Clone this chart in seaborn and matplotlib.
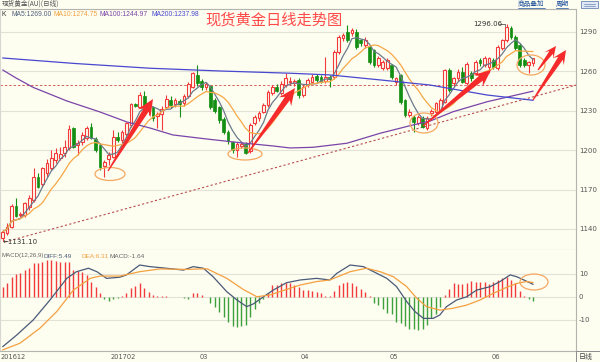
import math
import numpy as np
import pandas as pd
import matplotlib
matplotlib.use("Agg")
import matplotlib.pyplot as plt
import matplotlib.transforms as mtrans
from matplotlib.patches import Ellipse, Polygon, Rectangle
import seaborn as sns

sns.set_style("white")
plt.rcParams["font.family"] = ["DejaVu Sans", "Noto Sans CJK SC"]

W, H = 600, 362
BG = "#fdfdf0"
RED = "#f23a3a"
GREEN = "#138f13"

# ---------------- data ----------------
opens = [1132.9, 1136.7, 1141.8, 1157.8, 1150.5, 1150.7, 1157.0, 1162.1, 1179.9, 1174.3,
         1182.4, 1186.2, 1192.6, 1193.8, 1197.6, 1201.4, 1216.7, 1204.0, 1206.5, 1209.1,
         1217.9, 1208.3, 1204.0, 1188.0, 1193.1, 1195.1, 1210.3, 1207.8, 1212.4, 1219.2,
         1235.2, 1233.2, 1241.3, 1230.0, 1232.6, 1226.0, 1227.3, 1232.6, 1238.2, 1235.0,
         1237.4, 1235.7, 1241.3, 1248.4, 1257.3, 1252.7, 1248.4, 1248.9, 1238.2, 1233.1,
         1223.5, 1214.1, 1206.0, 1200.5, 1203.3, 1204.8, 1199.0, 1220.5, 1224.2, 1229.3,
         1234.4, 1243.8, 1248.4, 1243.3, 1250.0, 1252.0, 1250.9, 1253.4, 1242.0, 1249.6,
         1252.2, 1256.5, 1256.0, 1252.5, 1256.0, 1256.0, 1275.0, 1285.2, 1290.3, 1289.0,
         1290.3, 1283.9, 1280.1, 1278.8, 1276.3, 1264.9, 1262.3, 1262.3, 1264.9, 1252.2,
         1257.3, 1238.2, 1226.8, 1225.5, 1220.4, 1224.3, 1216.6, 1228.1, 1229.3, 1230.6,
         1236.9, 1261.1, 1250.9, 1254.7, 1259.8, 1250.9, 1258.5, 1258.5, 1268.7, 1264.9,
         1263.6, 1268.7, 1262.3, 1277.6, 1283.9, 1293.3, 1286.4, 1280.1, 1268.7, 1264.9,
         1266.1]
highs = [1139.3, 1144.3, 1158.8, 1163.4, 1153.2, 1160.8, 1165.9, 1186.2, 1182.4, 1187.5,
         1193.1, 1200.2, 1201.4, 1202.7, 1207.8, 1219.2, 1218.0, 1207.8, 1214.1, 1218.4,
         1221.0, 1209.8, 1205.8, 1192.6, 1198.9, 1215.4, 1214.1, 1215.4, 1221.7, 1236.2,
         1236.2, 1244.6, 1245.4, 1236.0, 1234.0, 1229.0, 1234.0, 1242.0, 1241.0, 1240.0,
         1239.0, 1243.0, 1252.0, 1259.8, 1264.9, 1254.0, 1252.0, 1250.0, 1240.0, 1234.0,
         1225.0, 1215.5, 1207.0, 1206.0, 1206.0, 1206.0, 1221.0, 1227.0, 1230.0, 1236.0,
         1246.0, 1250.0, 1250.5, 1253.0, 1258.5, 1256.0, 1254.0, 1255.0, 1250.0, 1255.0,
         1258.0, 1258.0, 1257.5, 1271.2, 1257.0, 1276.5, 1288.0, 1289.5, 1295.5, 1293.0,
         1292.0, 1285.0, 1286.0, 1280.0, 1277.0, 1272.0, 1269.0, 1270.0, 1266.0, 1256.0,
         1258.0, 1239.0, 1231.0, 1227.0, 1227.0, 1226.0, 1226.0, 1231.0, 1237.0, 1239.5,
         1262.0, 1262.3, 1256.0, 1262.0, 1263.0, 1267.0, 1260.0, 1269.0, 1270.0, 1271.5,
         1271.0, 1270.5, 1280.0, 1285.0, 1296.06, 1294.5, 1288.0, 1281.4, 1270.0, 1268.0,
         1270.0]
lows = [1131.1, 1135.5, 1140.5, 1149.4, 1149.4, 1149.4, 1154.5, 1160.8, 1171.0, 1172.3,
        1179.9, 1184.9, 1190.0, 1192.6, 1195.1, 1200.2, 1201.4, 1196.4, 1204.0, 1207.8,
        1208.3, 1198.9, 1184.9, 1179.9, 1188.8, 1193.8, 1206.5, 1205.3, 1210.3, 1217.9,
        1233.2, 1231.9, 1229.4, 1227.0, 1222.0, 1216.6, 1215.4, 1231.0, 1232.0, 1233.0,
        1225.5, 1234.0, 1240.0, 1247.0, 1249.0, 1246.0, 1246.0, 1231.0, 1228.0, 1221.0,
        1212.0, 1205.0, 1198.0, 1195.1, 1202.0, 1197.0, 1197.5, 1219.0, 1222.0, 1228.0,
        1233.0, 1242.0, 1244.0, 1242.0, 1248.0, 1250.0, 1249.0, 1240.0, 1240.5, 1248.0,
        1251.0, 1252.0, 1251.0, 1251.0, 1248.4, 1254.0, 1273.0, 1283.0, 1282.0, 1287.0,
        1277.0, 1279.0, 1278.0, 1266.0, 1263.0, 1263.0, 1261.0, 1261.0, 1254.5, 1250.0,
        1235.0, 1225.0, 1225.5, 1214.1, 1219.0, 1216.6, 1215.5, 1226.0, 1228.0, 1229.0,
        1236.0, 1244.0, 1249.0, 1253.0, 1251.0, 1249.6, 1253.0, 1257.0, 1264.0, 1263.0,
        1258.5, 1262.0, 1261.0, 1276.0, 1282.0, 1285.0, 1276.0, 1263.5, 1263.0, 1258.5,
        1264.0]
closes = [1138.0, 1141.8, 1157.8, 1150.2, 1151.7, 1159.6, 1163.4, 1179.4, 1171.7, 1186.2,
          1190.0, 1193.8, 1197.6, 1196.9, 1202.2, 1216.2, 1202.2, 1205.8, 1211.6, 1216.7,
          1209.1, 1200.2, 1187.0, 1191.3, 1196.4, 1210.3, 1207.8, 1214.1, 1220.5, 1235.2,
          1233.7, 1242.1, 1230.6, 1233.5, 1224.5, 1227.5, 1231.1, 1239.0, 1234.4, 1238.2,
          1235.2, 1241.3, 1250.4, 1258.5, 1250.9, 1248.4, 1250.2, 1232.6, 1230.1, 1222.9,
          1214.1, 1207.3, 1200.2, 1204.5, 1204.8, 1198.2, 1219.2, 1225.5, 1228.1, 1234.4,
          1244.6, 1248.4, 1245.3, 1250.5, 1254.7, 1253.0, 1252.5, 1242.0, 1248.4, 1253.4,
          1256.0, 1253.4, 1252.2, 1255.5, 1254.5, 1275.0, 1286.4, 1287.7, 1283.9, 1291.5,
          1278.8, 1281.4, 1283.9, 1267.4, 1264.9, 1270.0, 1267.4, 1268.7, 1256.0, 1254.7,
          1236.9, 1226.8, 1229.3, 1221.7, 1225.5, 1217.9, 1224.3, 1229.9, 1235.7, 1238.2,
          1261.1, 1245.8, 1254.7, 1259.8, 1252.2, 1265.5, 1254.7, 1267.4, 1266.1, 1270.0,
          1270.0, 1263.6, 1278.8, 1283.9, 1294.1, 1286.4, 1277.6, 1264.9, 1264.9, 1267.4,
          1270.0]

ma100_idx = [0, 3.0, 6.9, 14.5, 22, 28.1, 33.3, 38.5, 46.2, 53.7, 61.2, 65, 70.2, 77.9, 85.4,
             92.8, 96.7, 101.9, 109.6, 120]
ma100_val = [1261.1, 1255.0, 1247.8, 1237.5, 1229.1, 1221.5, 1216.9, 1211.6, 1208.5, 1205.7,
             1203.2, 1201.7, 1202.2, 1205.3, 1212.9, 1219.2, 1222.2, 1229.3, 1236.9, 1244.97]
ma200_idx = [0, 16.4, 33.3, 49.2, 65, 74, 85.4, 96.7, 109.6, 120]
ma200_val = [1270.2, 1266.0, 1262.4, 1260.3, 1258.6, 1257.3, 1253.5, 1249.6, 1242.0, 1237.98]

macd_bar = [4.5, 5.9, 8.8, 10.0, 10.6, 11.7, 12.5, 14.9, 14.9, 15.4,
            16.1, 16.1, 15.7, 15.4, 15.1, 15.2, 11.7, 11.4, 11.0, 9.6,
            6.7, 4.5, 1.6, -1.0, -1.6, -0.9, -0.6, 0.6, 1.6, 3.8,
            4.8, 5.9, 3.8, 2.0, 0.9, 0.3, 0.4, 0.4, 0.1, 0.1,
            0.2, -0.6, -0.9, 1.6, 1.6, 0.9, 0.1, -2.5, -4.2, -6.4,
            -8.6, -10.7, -12.6, -12.9, -12.6, -12.2, -8.6, -5.4, -2.8, -1.0,
            1.9, 5.2, 5.2, 5.9, 5.9, 5.9, 5.2, 4.5, 3.0, 3.0,
            2.8, 2.3, 1.6, 0.6, 0.6, 2.8, 5.2, 6.2, 6.5, 6.2,
            4.8, 3.3, 2.3, 0.4, -2.5, -3.6, -5.4, -6.8, -7.4, -10.7,
            -11.2, -12.6, -13.8, -14.1, -14.3, -14.1, -12.2, -9.3, -7.4, -4.5,
            1.0, 3.3, 5.9, 5.7, 5.7, 6.2, 7.0, 6.7, 6.4, 6.5,
            5.7, 6.5, 7.4, 8.1, 8.6, 7.4, 5.9, 2.8, 0.4, -1.0,
            -1.64]

diff_idx = [0, 3.2, 6.9, 10.7, 14.5, 16.7, 19.4, 21.3, 23.5, 26.5, 28, 31, 33.3, 37, 40.9,
            43.1, 45.4, 47.6, 50.7, 53, 55.2, 56.7, 59, 61.2, 64.2, 67.3, 71, 74, 75.6, 78.6,
            81.6, 83.9, 86.9, 89.1, 91.4, 93.3, 95.2, 97.4, 98.9, 100.4, 102.7, 105, 107.2,
            110.3, 112.5, 114.8, 116.3, 117.9, 120]
diff_val = [-21.6, -16.5, -10.0, -1.3, 8.1, 11.0, 12.5, 11.0, 8.1, 8.6, 9.6, 13.9, 13.2, 12.5,
            11.7, 13.2, 12.5, 8.8, 2.3, -1.3, -4.2, -3.0, 0.1, 3.0, 6.2, 7.4, 8.1, 7.4, 10.3,
            13.9, 13.2, 11.0, 8.1, 4.5, -2.0, -6.4, -9.3, -9.3, -7.8, -4.2, -1.3, 0.1, 3.0,
            4.5, 6.7, 9.6, 8.8, 7.4, 5.49]
dea_idx = [0, 3.9, 8.4, 12.2, 16, 19.8, 22, 26.5, 31, 35.6, 41.6, 46.2, 50.7, 54.4, 57.5,
           60.5, 64.2, 67.3, 71, 74, 78.6, 82.3, 85.4, 88.4, 91.4, 93.7, 95.9, 98.9, 101.9,
           105, 108, 111, 114, 116.3, 118.5, 120]
dea_val = [-23.0, -20.1, -13.6, -6.4, 3.0, 8.1, 9.1, 9.1, 11.0, 12.2, 12.0, 12.3, 8.1, 3.3,
           0.1, 0.9, 3.3, 5.2, 6.7, 7.4, 11.0, 12.5, 11.0, 8.8, 4.5, -0.6, -4.2, -5.7, -4.9,
           -3.5, -1.3, 1.6, 4.2, 5.9, 6.7, 6.31]

month_labels = ["201612", "201702", "03", "04", "05", "06"]
month_start = [0, 25, 45, 68, 88, 111]
price_ticks = [1140, 1170, 1200, 1230, 1260, 1290]
macd_ticks = [10, 0, -10]
trend_start = (0.5, 1130.1)
trend_end = (129.7, 1249.6)
hline_price = 1249.3
low_label, high_label = "1131.10", "1296.06"

# ---------------- figure ----------------
fig = plt.figure(figsize=(W / 100, H / 100), dpi=100, facecolor=BG)

def frac(px0, py0, px1, py1):
    return [px0 / W, 1 - py1 / H, (px1 - px0) / W, (py1 - py0) / H]

ax = fig.add_axes(frac(0, 9, 576, 250), facecolor=BG)
mx = fig.add_axes(frac(0, 250, 576, 351), facecolor=BG, sharex=ax)

XL = (-0.61, 129.7)
ax.set_xlim(*XL)
ax.set_ylim(1124.0, 1307.5)
mx.set_ylim(-23.48, 20.43)

for a in (ax, mx):
    for s in a.spines.values():
        s.set_color("#b4b4ac")
        s.set_linewidth(0.8)
    a.spines["left"].set_color("#d8d8d0")
    a.tick_params(axis="x", length=0, labelbottom=False)
    a.yaxis.tick_right()
    a.tick_params(axis="y", length=0, pad=2, labelsize=5, labelcolor="#555555")
mx.spines["top"].set_visible(False)

ax.set_yticks(price_ticks)
ax.set_yticklabels([str(t) for t in price_ticks])
mx.set_yticks(macd_ticks)
mx.set_yticklabels([str(t) for t in macd_ticks])
for t in price_ticks:
    ax.axhline(t, color="#e2e2d8", lw=0.8, zorder=0)
for t in macd_ticks:
    mx.axhline(t, color="#e2e2d8", lw=0.8, zorder=0)

# candles
o = np.array(opens); h = np.array(highs); l = np.array(lows); c = np.array(closes)
x = np.arange(len(c))
up = c >= o
bot = np.minimum(o, c); top = np.maximum(o, c)
hgt = np.maximum(top - bot, 0.35)
ax.vlines(x[up], l[up], bot[up], color=RED, lw=0.8, zorder=3)
ax.vlines(x[up], top[up], h[up], color=RED, lw=0.8, zorder=3)
ax.bar(x[up], hgt[up], bottom=bot[up], width=0.62, facecolor=BG, edgecolor=RED, lw=0.8, zorder=4)
ax.vlines(x[~up], l[~up], h[~up], color=GREEN, lw=0.8, zorder=3)
ax.bar(x[~up], hgt[~up], bottom=bot[~up], width=0.62, facecolor=GREEN, edgecolor=GREEN, lw=0.5, zorder=4)

# moving averages
cs = pd.Series(c)
ma5 = cs.rolling(5, min_periods=1).mean()
ma10 = cs.rolling(10, min_periods=1).mean()
sns.lineplot(x=x, y=ma5.values, ax=ax, color="#6c7a8c", lw=0.9, estimator=None, sort=False, zorder=5)
sns.lineplot(x=x, y=ma10.values, ax=ax, color="#f5a847", lw=0.9, estimator=None, sort=False, zorder=5)
sns.lineplot(x=ma100_idx, y=ma100_val, ax=ax, color="#7a45a8", lw=0.9, estimator=None, sort=False, zorder=5)
sns.lineplot(x=ma200_idx, y=ma200_val, ax=ax, color="#4848d0", lw=0.9, estimator=None, sort=False, zorder=5)

ax.plot([XL[0], XL[1]], [hline_price, hline_price], color="#d86060", lw=0.7, ls=(0, (2.5, 2)), zorder=2)
ax.plot([trend_start[0], trend_end[0]], [trend_start[1], trend_end[1]], color="#b85050",
        lw=0.8, ls=(0, (2, 2)), zorder=2)

# MACD
bars = np.array(macd_bar)
bx = np.arange(len(bars))
mx.vlines(bx[bars >= 0], 0, bars[bars >= 0], color=RED, lw=1.0, zorder=3)
mx.vlines(bx[bars < 0], 0, bars[bars < 0], color="#3ca03c", lw=1.0, zorder=3)
sns.lineplot(x=diff_idx, y=diff_val, ax=mx, color="#4a5a78", lw=0.9, estimator=None, sort=False, zorder=5)
sns.lineplot(x=dea_idx, y=dea_val, ax=mx, color="#f5a040", lw=0.9, estimator=None, sort=False, zorder=5)
ax.set_xlabel(""); ax.set_ylabel(""); mx.set_xlabel(""); mx.set_ylabel("")

trans = mtrans.blended_transform_factory(mx.transData, mx.transAxes)
for lab, si in zip(month_labels, month_start):
    mx.text(si - 0.5, -0.055, lab, transform=trans, ha="left", va="center",
            fontsize=4.8, color="#555555", clip_on=False)

# ---------------- overlay (pixel coordinates) ----------------
ov = fig.add_axes([0, 0, 1, 1])
ov.set_xlim(0, W); ov.set_ylim(H, 0); ov.axis("off"); ov.patch.set_alpha(0)

def txt(px, py, s, color="#333333", size=5.0, family=None, **kw):
    kw.setdefault("ha", "left")
    if family is None:
        family = ["Liberation Sans", "DejaVu Sans"]
    ov.text(px, py, s, color=color, fontsize=size, va="center", family=family, **kw)

txt(2, 4, "现货黄金(AU)(日线)", color="#555555", size=4.8, family=["Noto Sans CJK SC"])
txt(518, 4, "商品叠加", color="#1d4f9c", size=4.8, family=["Noto Sans CJK SC"])
txt(556, 4, "周期", color="#1d4f9c", size=4.8, family=["Noto Sans CJK SC"])
ov.plot([518, 545], [8, 8], color="#1d4f9c", lw=0.5)
ov.plot([556, 568], [8, 8], color="#1d4f9c", lw=0.5)
ov.add_patch(Rectangle((581, 1), 17, 7, facecolor="#dfe8f4", edgecolor="#6a86b4", lw=0.6))
ov.plot([584, 595], [3.5, 3.5], color="#6a86b4", lw=0.5)
ov.plot([584, 595], [5.5, 5.5], color="#6a86b4", lw=0.5)

HS = 4.9
txt(2, 14, "K", color="#333333", size=HS)
txt(11, 14, "MA5:1269.00", color="#52627e", size=HS)
txt(54, 14, "MA10:1274.75", color="#f0a040", size=HS)
txt(100, 14, "MA100:1244.97", color="#7a45a8", size=HS)
txt(151, 14, "MA200:1237.98", color="#4848d0", size=HS)

MS = 4.6
txt(1, 256, "MACD(12,26,9)", color="#666666", size=4.4)
txt(43, 256, "DIFF:5.49", color="#4a5a78", size=MS)
txt(81, 256, "DEA:6.31", color="#f0a040", size=MS)
txt(110, 256, "MACD:-1.64", color="#666666", size=MS)

txt(205, 19.5, "现货黄金日线走势图", color="#ff4a4a", size=11, family=["Noto Sans CJK SC"])

txt(473, 23.5, high_label, color="#333333", size=5.0, family=["DejaVu Sans"])
ov.plot([499, 505, 505], [23.5, 23.5, 26], color="#555555", lw=0.6)
txt(3, 241.5, "\u2190" + low_label, color="#333333", size=5.0, family=["DejaVu Sans"])

ov.add_patch(Rectangle((576, 351), 23.5, 10.5, facecolor=BG, edgecolor="#8c8c8c", lw=0.7))
txt(579, 356.5, "日线", color="#444444", size=5.0, family=["Noto Sans CJK SC"])

for (cx, cy, ew, eh) in [(110, 174, 30, 13), (245, 154, 34, 12), (424, 123, 28, 20),
                         (531, 65, 28, 20), (534, 282, 28, 16)]:
    ov.add_patch(Ellipse((cx, cy), ew, eh, facecolor="none", edgecolor="#f5a860", lw=0.9))

def arrow(x0, y0, x1, y1, w0=1.2, w1=6.0, hw=15.0, hl=16.0, back=3.0):
    dx, dy = x1 - x0, y1 - y0
    L = math.hypot(dx, dy)
    ux, uy = dx / L, dy / L
    nx, ny = -uy, ux
    bx_, by_ = x1 - ux * hl, y1 - uy * hl
    pts = [(x0 + nx * w0 / 2, y0 + ny * w0 / 2),
           (bx_ + ux * back + nx * w1 / 2, by_ + uy * back + ny * w1 / 2),
           (bx_ - ux * back * 0.3 + nx * hw / 2, by_ - uy * back * 0.3 + ny * hw / 2),
           (x1, y1),
           (bx_ - ux * back * 0.3 - nx * hw / 2, by_ - uy * back * 0.3 - ny * hw / 2),
           (bx_ + ux * back - nx * w1 / 2, by_ + uy * back - ny * w1 / 2),
           (x0 - nx * w0 / 2, y0 - ny * w0 / 2)]
    ov.add_patch(Polygon(pts, closed=True, facecolor="#f52a2a", edgecolor="none", zorder=10))

arrow(108, 171, 153, 99)
arrow(248, 153, 295, 88)
arrow(423, 126, 491, 70)
arrow(538, 70, 556, 46, hw=11, hl=11, w1=4.5)
arrow(533, 100, 566, 50, hw=13, hl=13, w1=5.5)

fig.savefig("out.png", dpi=100, facecolor=BG)
